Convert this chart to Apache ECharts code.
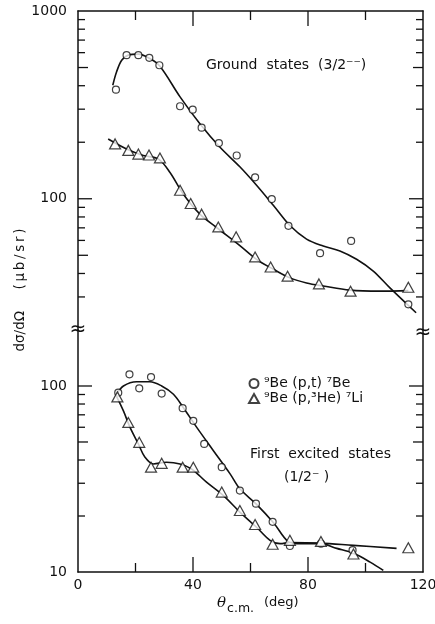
<!DOCTYPE html>
<html>
<head>
<meta charset="utf-8">
<script src="https://cdn.jsdelivr.net/npm/echarts@6/dist/echarts.min.js"></script>
<style>
  html, body { margin: 0; padding: 0; background: #fff; }
  #chart { width: 435px; height: 624px; }
</style>
</head>
<body>
<div id="chart"></div>
<script>
// ---- Ground states (3/2-): 9Be(p,t)7Be, measured points ----
const gsPtAngle = [13.2, 16.9, 21.0, 24.8, 28.3, 35.5, 39.9, 43.0, 49.0, 55.2, 61.6, 67.4, 73.2, 84.2, 95.0, 114.9];
const gsPtValue = [381, 582, 582, 563, 514, 311, 298, 239, 198, 170, 130, 99.6, 71.8, 51.3, 59.6, 27.4];
// ---- Ground states: 9Be(p,3He)7Li, measured points ----
const gsHeAngle = [12.9, 17.5, 21.0, 24.7, 28.5, 35.5, 39.2, 43.0, 48.8, 55.0, 61.6, 67.0, 72.9, 83.8, 94.8, 114.9];
const gsHeValue = [196, 181, 173, 171, 165, 111, 94.4, 82.8, 70.8, 62.7, 49.0, 43.3, 38.7, 35.2, 32.2, 33.8];
// ---- First excited states (1/2-): 9Be(p,t)7Be ----
const exPtAngle = [14.0, 17.9, 21.3, 25.4, 29.1, 36.4, 40.1, 43.9, 50.0, 56.3, 61.9, 67.7, 73.7, 84.5, 95.5];
const exPtValue = [92.1, 115.5, 97.2, 111.7, 91.0, 76.0, 65.0, 48.8, 36.6, 27.4, 23.3, 18.6, 13.8, 14.2, 13.1];
// ---- First excited states: 9Be(p,3He)7Li ----
const exHeAngle = [13.7, 17.5, 21.3, 25.4, 29.1, 36.4, 40.1, 50.0, 56.3, 61.6, 67.7, 73.7, 84.5, 95.8, 114.9];
const exHeValue = [87.4, 63.7, 49.8, 36.6, 38.4, 36.6, 36.6, 26.9, 21.4, 18.0, 14.1, 14.8, 14.6, 12.5, 13.5];

// ---- Hand-drawn guide curves through the data ----
const gsPtCurveAngle = [12.1, 13.4, 15.2, 17.5, 21.0, 25.0, 28.5, 35.5, 42.4, 49.4, 56.3, 62.1, 68.0, 73.7, 79.5, 85.3, 91.1, 96.9, 102.7, 108.5, 117.6];
const gsPtCurveValue = [402, 473, 547, 582, 589, 558, 508, 349, 251, 188, 148, 118, 92, 72, 61, 56, 52.7, 47.6, 41.2, 33.5, 24.7];
const gsHeCurveAngle = [10.5, 16.9, 22.7, 27.9, 32.0, 36.6, 42.4, 48.2, 56.3, 62.1, 68.0, 73.7, 79.5, 85.3, 94.6, 105.0, 114.9];
const gsHeCurveValue = [208, 184, 170, 163, 138, 106, 82.8, 70.3, 56.3, 47.6, 42.1, 37.9, 35.6, 34.3, 32.6, 32.2, 32.4];
const exPtCurveAngle = [13.4, 15.8, 20.4, 25.0, 29.1, 33.2, 36.6, 41.3, 47.1, 52.9, 56.3, 62.1, 68.0, 73.2, 76.1, 84.2, 90.0, 95.8, 101.6, 106.2];
const exPtCurveValue = [90.3, 100, 105.4, 105.4, 100, 90.3, 76.6, 59.9, 44.9, 33.7, 28.0, 23.1, 18.4, 14.5, 14.2, 14.2, 13.4, 12.6, 11.3, 10.2];
const exHeCurveAngle = [13.4, 15.8, 18.1, 21.0, 23.3, 26.2, 30.8, 35.5, 39.5, 44.7, 50.5, 56.3, 62.1, 66.8, 70.3, 73.7, 84.2, 95.8, 110.8];
const exHeCurveValue = [88, 73.5, 59.9, 48.8, 41.4, 38.1, 38.9, 38.1, 35.8, 30.4, 25.8, 21.0, 17.4, 14.8, 14.2, 14.4, 14.3, 13.9, 13.4];

// ---- Axes: ranges, ticks and labels ----
const xRange = [0, 120];
const xTicks = [20, 40, 60, 80, 100];
const xTickLabels = [0, 40, 80, 120];
const topRange = [20, 1000];
const bottomRange = [10, 200];
const topYTicks = [30, 40, 50, 60, 70, 80, 90, 100, 200, 300, 400, 500, 600, 700, 800, 900];
const bottomYTicks = [20, 30, 40, 50, 60, 70, 80, 90, 100];
const topYLabels = [100, 1000];
const bottomYLabels = [10, 100];

const nameProtonTriton = '⁹Be (p,t) ⁷Be';
const nameProtonHelion = '⁹Be (p,³He) ⁷Li';

const FONT = 'DejaVu Sans';
const INK = '#111';

const zip = (a, b) => a.map((v, i) => [v, b[i]]);

function yTickLen(v) {
  const e = Math.floor(Math.log10(v) + 1e-9);
  const lead = Math.round(v / Math.pow(10, e));
  if (lead === 1) return 14;
  if (lead === 5) return 10;
  return 7;
}
function xTickLen(v) { return v % 40 === 0 ? 15 : 9; }

function labelFormatter(list) {
  return function (v) {
    const r = Math.round(v);
    return list.indexOf(r) >= 0 && Math.abs(v - r) < 1e-6 * r ? String(r) : '';
  };
}

function yAxisDef(gridIndex, range, position, labels) {
  return {
    type: 'log', logBase: 10, gridIndex: gridIndex, position: position,
    min: range[0], max: range[1],
    axisLine: { show: true, onZero: false, lineStyle: { color: INK, width: 1.5 } },
    axisTick: { show: false }, splitLine: { show: false }, minorTick: { show: false },
    axisLabel: labels ? {
      show: true, color: INK, fontFamily: FONT, fontSize: 14, margin: 11,
      showMinLabel: true, showMaxLabel: true, formatter: labelFormatter(labels)
    } : { show: false }
  };
}

// vertical-axis tick marks on both sides of a panel
function yTickSeries(xAxisIndex, yAxisIndex, ticks) {
  return {
    type: 'custom', xAxisIndex: xAxisIndex, yAxisIndex: yAxisIndex, silent: true, clip: false, z: 5,
    data: ticks.map(v => [xRange[0], v]),
    renderItem: function (params, api) {
      const v = api.value(1);
      const l = api.coord([xRange[0], v]);
      const r = api.coord([xRange[1], v]);
      const len = yTickLen(v);
      const st = { stroke: INK, lineWidth: 1.3 };
      return { type: 'group', children: [
        { type: 'line', shape: { x1: l[0], y1: l[1], x2: l[0] + len, y2: l[1] }, style: st },
        { type: 'line', shape: { x1: r[0] - len, y1: r[1], x2: r[0], y2: r[1] }, style: st }
      ] };
    }
  };
}

// horizontal-axis tick marks pointing into a panel from the edge value `edge`
function xTickSeries(xAxisIndex, yAxisIndex, edge, dir) {
  return {
    type: 'custom', xAxisIndex: xAxisIndex, yAxisIndex: yAxisIndex, silent: true, clip: false, z: 5,
    data: xTicks.map(v => [v, edge]),
    renderItem: function (params, api) {
      const p = api.coord([api.value(0), edge]);
      const len = xTickLen(api.value(0));
      return { type: 'line', shape: { x1: p[0], y1: p[1], x2: p[0], y2: p[1] + dir * len },
        style: { stroke: INK, lineWidth: 1.3 } };
    }
  };
}

function curve(xi, yi, ax, vals) {
  return {
    type: 'line', xAxisIndex: xi, yAxisIndex: yi, data: zip(ax, vals), smooth: 0.35,
    showSymbol: false, silent: true, z: 2,
    lineStyle: { color: INK, width: 1.6 }
  };
}
function points(xi, yi, name, symbol, size, ax, vals) {
  return {
    type: 'scatter', name: name, xAxisIndex: xi, yAxisIndex: yi, data: zip(ax, vals),
    symbol: symbol, symbolSize: size, z: 4,
    itemStyle: { color: '#fff', borderColor: INK, borderWidth: 1.2 }
  };
}

const chart = echarts.init(document.getElementById('chart'), null, { renderer: 'canvas' });

const textFont = '14px "' + FONT + '"';
const thin = '\u2009';

const option = {
  animation: false,
  backgroundColor: '#fff',
  grid: [
    { left: 78, right: 12, top: 11, height: 319, outerBoundsMode: 'none' },
    { left: 78, right: 12, top: 330, height: 242, outerBoundsMode: 'none' }
  ],
  xAxis: [
    { type: 'value', gridIndex: 0, position: 'top', min: xRange[0], max: xRange[1],
      axisLine: { show: true, onZero: false, lineStyle: { color: INK, width: 1.5 } },
      axisTick: { show: false }, axisLabel: { show: false }, splitLine: { show: false } },
    { type: 'value', gridIndex: 1, position: 'bottom', min: xRange[0], max: xRange[1], interval: 40,
      axisLine: { show: true, onZero: false, lineStyle: { color: INK, width: 1.5 } },
      axisTick: { show: false }, splitLine: { show: false },
      axisLabel: { color: INK, fontFamily: FONT, fontSize: 14, margin: 6,
        formatter: v => (xTickLabels.indexOf(v) >= 0 ? String(v) : '') } }
  ],
  yAxis: [
    yAxisDef(0, topRange, 'left', topYLabels),
    yAxisDef(0, topRange, 'right', null),
    yAxisDef(1, bottomRange, 'left', bottomYLabels),
    yAxisDef(1, bottomRange, 'right', null)
  ],
  legend: {
    orient: 'vertical', left: 243, top: 371, itemGap: 0, itemWidth: 10, itemHeight: 9,
    selectedMode: false,
    textStyle: { color: INK, fontFamily: FONT, fontSize: 14, lineHeight: 15 },
    data: [ { name: nameProtonTriton, icon: 'circle' }, { name: nameProtonHelion, icon: 'triangle' } ]
  },
  series: [
    yTickSeries(0, 0, topYTicks),
    yTickSeries(1, 2, bottomYTicks),
    xTickSeries(0, 0, topRange[1], 1),
    xTickSeries(1, 2, bottomRange[0], -1),

    curve(0, 0, gsPtCurveAngle, gsPtCurveValue),
    curve(0, 0, gsHeCurveAngle, gsHeCurveValue),
    curve(1, 2, exPtCurveAngle, exPtCurveValue),
    curve(1, 2, exHeCurveAngle, exHeCurveValue),

    points(0, 0, nameProtonTriton, 'circle', 7, gsPtAngle, gsPtValue),
    points(0, 0, nameProtonHelion, 'triangle', [11, 10], gsHeAngle, gsHeValue),
    points(1, 2, nameProtonTriton, 'circle', 7, exPtAngle, exPtValue),
    points(1, 2, nameProtonHelion, 'triangle', [11, 10], exHeAngle, exHeValue)
  ],
  graphic: [
    { type: 'text', left: 206, top: 58, style: { text: 'Ground  states  (3/2⁻⁻)', fill: INK, font: textFont } },
    { type: 'text', left: 250, top: 447, style: { text: 'First  excited  states', fill: INK, font: textFont } },
    { type: 'text', left: 284, top: 470, style: { text: '(1/2⁻ )', fill: INK, font: textFont } },
    { type: 'text', x: 20, y: 290, rotation: Math.PI / 2,
      style: { text: 'dσ/dΩ     (' + thin + 'μ' + thin + 'b' + thin + '/' + thin + 's' + thin + 'r' + thin + ')',
        fill: INK, font: '13.5px "' + FONT + '"', align: 'center', verticalAlign: 'middle' } },
    { type: 'text', x: 78, y: 330, style: { text: '≈', fill: INK, font: '20px "' + FONT + '"', align: 'center', verticalAlign: 'middle' } },
    { type: 'text', x: 423, y: 333, style: { text: '≈', fill: INK, font: '20px "' + FONT + '"', align: 'center', verticalAlign: 'middle' } },
    { type: 'text', left: 217, top: 596,
      style: { text: '{t|θ}{s|c.m.}   {d|(deg)}', rich: {
        t: { fontFamily: 'DejaVu Serif', fontStyle: 'italic', fontSize: 15, fill: INK, padding: [0, 1, 0, 0] },
        s: { fontFamily: FONT, fontSize: 12.5, fill: INK, padding: [10, 0, 0, 0] },
        d: { fontFamily: FONT, fontSize: 13, fill: INK, padding: [0, 0, 2, 0] }
      } } }
  ]
};

chart.setOption(option);
</script>
</body>
</html>
